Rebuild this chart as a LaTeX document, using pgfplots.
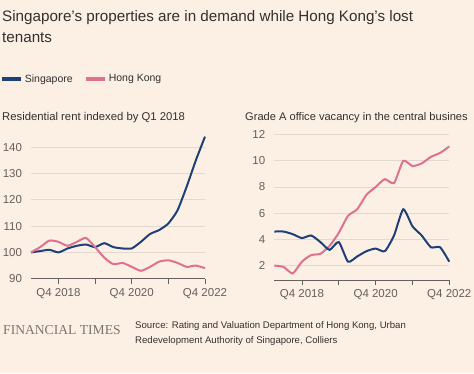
\documentclass[border=0pt]{standalone}
\usepackage{pgfplots}
\usepackage{pgfplotstable}
\pgfplotsset{compat=1.18}
\usepackage{fontspec}
\setmainfont{Liberation Sans}
\newfontfamily\ftserif{Liberation Serif}
\definecolor{bg}{HTML}{FCF0E5}
\definecolor{sgblue}{HTML}{1E3F7A}
\definecolor{hkpink}{HTML}{E0708F}
\definecolor{gridc}{HTML}{E2D9CF}
\definecolor{txt}{HTML}{33302E}
\definecolor{tickc}{HTML}{66605C}
\definecolor{ftgray}{HTML}{7A7470}

\pgfplotstableread{
i sg hk
0 100 100
1 100.5 102
2 101 104.5
3 100 104
4 101.5 102.5
5 102.5 104
6 103 105.5
7 102 102
8 103.5 98
9 102 95.5
10 101.5 96
11 101.5 94.5
12 104 93
13 107 94.5
14 108.5 96.5
15 111 97
16 116 96
17 125 94.5
18 135 95
19 144 94
}\rent

\pgfplotstableread{
i sg hk
0 4.6 2.0
1 4.6 1.9
2 4.4 1.4
3 4.1 2.3
4 4.3 2.8
5 3.8 2.9
6 3.2 3.5
7 3.8 4.5
8 2.3 5.8
9 2.7 6.3
10 3.1 7.4
11 3.3 8.0
12 3.1 8.6
13 4.3 8.3
14 6.3 10.0
15 5.0 9.6
16 4.3 9.8
17 3.4 10.3
18 3.4 10.6
19 2.3 11.1
}\vacancy

\pgfplotsset{
  ftaxis/.style={
    scale only axis,
    xmin=0, xmax=19,
    xtick={3,7,11,15,19},
    xticklabels={Q4 2018,,Q4 2020,,Q4 2022},
    axis x line=bottom,
    axis y line=left,
    axis line style={-},
    x axis line style={draw=tickc, line width=0.8pt},
    y axis line style={draw=none},
    xtick align=outside,
    major tick length=5pt,
    xtick style={draw=tickc, line width=0.8pt},
    ytick style={draw=none},
    ymajorgrids,
    major grid style={draw=gridc, line width=0.8pt},
    tick label style={font=\fontsize{11.5}{13}\selectfont, text=tickc},
    /pgf/number format/assume math mode=true,
    xticklabel style={yshift=-1pt},
    yticklabel style={anchor=east, xshift=-3pt},
    clip=false,
    every axis plot/.append style={line width=2pt, smooth, tension=0.35},
  }
}

\begin{document}
\begin{tikzpicture}[x=1pt,y=1pt]
\fill[bg] (0,0) rectangle (474,373);
\useasboundingbox (0,0) rectangle (474,373);

% title
\node[anchor=base west, inner sep=0, text=txt, font=\fontsize{15.2}{18}\selectfont] at (2,351) {Singapore’s properties are in demand while Hong Kong’s lost};
\node[anchor=base west, inner sep=0, text=txt, font=\fontsize{15.2}{18}\selectfont] at (2,330) {tenants};

% subtitles
\node[anchor=base west, inner sep=0, text=txt, font=\fontsize{11.3}{13}\selectfont] at (2,252) {Residential rent indexed by Q1 2018};
\node[anchor=base west, inner sep=0, text=txt, font=\fontsize{11.1}{13}\selectfont] at (245,252) {Grade A office vacancy in the central busines};

% left chart
\begin{axis}[ftaxis,
  at={(31pt,94.3pt)}, anchor=south west,
  width=174pt, height=144.7pt,
  ymin=90, ymax=145,
  ytick={90,100,...,140},
  legend style={at={(-0.18,1.38)}, anchor=west, draw=none, fill=none,
    font=\fontsize{10.5}{12}\selectfont, text=txt, inner sep=0pt,
    legend columns=2,
    nodes={inner sep=2pt},
    /tikz/every even column/.append style={column sep=9pt}},
  legend image code/.code={\draw[#1, line width=4pt, smooth=false] (0pt,0pt) -- (19pt,0pt);},
]
\addplot[sgblue] table[x=i, y=sg] {\rent};
\addlegendentry{Singapore}
\addplot[hkpink] table[x=i, y=hk] {\rent};
\addlegendentry{Hong Kong}
\end{axis}

% right chart
\begin{axis}[ftaxis,
  at={(274.3pt,93pt)}, anchor=south west,
  width=175pt, height=148pt,
  ymin=0.9, ymax=12.2,
  ytick={2,4,...,12},
]
\addplot[hkpink] table[x=i, y=hk] {\vacancy};
\addplot[sgblue] table[x=i, y=sg] {\vacancy};
\end{axis}

% footer
\node[anchor=base west, inner sep=0, text=ftgray, font=\ftserif\fontsize{13.6}{16}\selectfont] at (3,39) {FINANCIAL TIMES};
\node[anchor=base west, inner sep=0, text=txt, font=\fontsize{9.6}{14}\selectfont] at (135,45) {Source: Rating and Valuation Department of Hong Kong, Urban};
\node[anchor=base west, inner sep=0, text=txt, font=\fontsize{9.6}{14}\selectfont] at (135,30) {Redevelopment Authority of Singapore, Colliers};
\end{tikzpicture}
\end{document}
